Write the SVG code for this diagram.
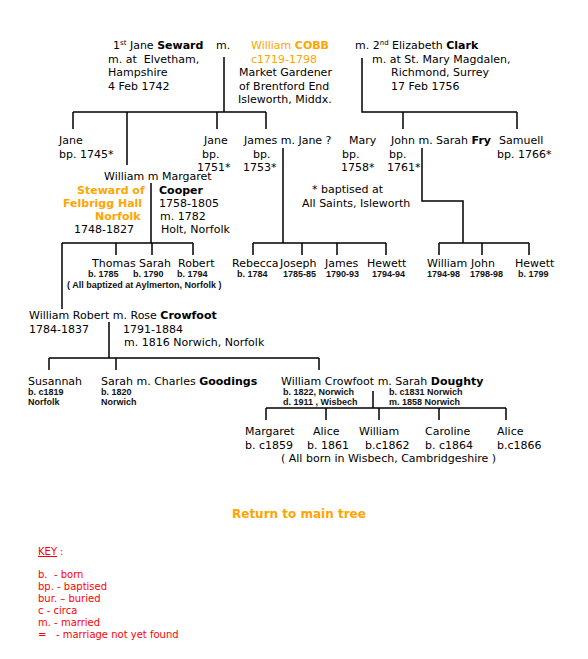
<svg xmlns="http://www.w3.org/2000/svg" width="588" height="659" viewBox="0 0 588 659">
<style>
text{font-family:"DejaVu Sans",Verdana,sans-serif;font-size:11px;fill:#000}
.b{font-weight:bold}
.o{fill:#FFA500}
.s{font-family:"Liberation Sans",Arial,sans-serif;font-size:9px;font-weight:bold;fill:#111}
.k{font-size:10px;fill:#FF0000}
.sup{font-size:7px}
#connectors path{fill:none;stroke:#000;stroke-width:1.5}
</style>
<rect width="588" height="659" fill="#fff"/>
<g id="connectors">
<path d="M224,57V112M73,112H266M73,112V129M127,112V165M217,112V129M266,112V129"/>
<path d="M362,58V112H517M403,112V129M517,112V129"/>
<path d="M283,148V243M253,243H386M253,243V255M302,243V255M337,243V255M386,243V255"/>
<path d="M422,148V201H463V243M439,243H529M439,243V255M482,243V255M529,243V255"/>
<path d="M151,183V243M62,243H193M62,243V309M116,243V255M152,243V255M193,243V255"/>
<path d="M109,322V358M49,358H319M49,358V370M116,358V370M319,358V370"/>
<path d="M373,391V408M266,408H506M266,408V420M326,408V420M379,408V420M439,408V420M506,408V420"/>
</g>
<g id="jane-seward">
<text x="113" y="49">1<tspan class="sup" dy="-4">st</tspan><tspan dy="4"> Jane </tspan><tspan class="b">Seward</tspan></text>
<text x="216" y="49">m.</text>
<text x="108" y="62.5">m. at&#160; Elvetham,</text>
<text x="108" y="76">Hampshire</text>
<text x="108" y="89.5">4 Feb 1742</text>
</g>
<g id="william-cobb">
<text x="251" y="49" class="o">William <tspan class="b">COBB</tspan></text>
<text x="251" y="62.5" class="o">c1719-1798</text>
<text x="239" y="76">Market Gardener</text>
<text x="239" y="89.5">of Brentford End</text>
<text x="238" y="103">Isleworth, Middx.</text>
</g>
<g id="elizabeth-clark">
<text x="355" y="49">m. 2<tspan class="sup" dy="-4">nd</tspan><tspan dy="4"> Elizabeth </tspan><tspan class="b">Clark</tspan></text>
<text x="372" y="62.5">m. at St. Mary Magdalen,</text>
<text x="391" y="76">Richmond, Surrey</text>
<text x="391" y="89.5">17 Feb 1756</text>
</g>
<g id="jane-1745"><text x="59" y="144">Jane</text><text x="59" y="157.5">bp. 1745*</text></g>
<g id="jane-1751"><text x="204" y="144">Jane</text><text x="202" y="157.5">bp.</text><text x="197" y="171">1751*</text></g>
<g id="james"><text x="244" y="144">James m. Jane ?</text><text x="253" y="157.5">bp.</text><text x="243" y="171">1753*</text></g>
<g id="mary"><text x="349" y="144">Mary</text><text x="342" y="157.5">bp.</text><text x="341" y="171">1758*</text></g>
<g id="john"><text x="391" y="144">John m. Sarah <tspan class="b">Fry</tspan></text><text x="389" y="157.5">bp.</text><text x="387" y="171">1761*</text></g>
<g id="samuell"><text x="499" y="144">Samuell</text><text x="497" y="157.5">bp. 1766*</text></g>
<g id="note-baptised"><text x="312" y="193">* baptised at</text><text x="302" y="207">All Saints, Isleworth</text></g>
<g id="william-margaret">
<text x="104" y="180">William m Margaret</text>
<text x="77" y="193.5" class="o b">Steward of</text>
<text x="63" y="207" class="o b">Felbrigg Hall</text>
<text x="95" y="220" class="o b">Norfolk</text>
<text x="74" y="233">1748-1827</text>
<text x="159" y="193.5" class="b">Cooper</text>
<text x="159" y="207">1758-1805</text>
<text x="160" y="220">m. 1782</text>
<text x="161" y="233">Holt, Norfolk</text>
</g>
<g id="thomas"><text x="92" y="267">Thomas</text><text x="88" y="277" class="s">b. 1785</text></g>
<g id="sarah-1790"><text x="139" y="267">Sarah</text><text x="133" y="277" class="s">b. 1790</text></g>
<g id="robert"><text x="178" y="267">Robert</text><text x="177" y="277" class="s">b. 1794</text></g>
<g id="note-aylmerton"><text x="67" y="288" class="s">( All baptized at Aylmerton, Norfolk )</text></g>
<g id="rebecca"><text x="232" y="267">Rebecca</text><text x="237" y="277" class="s">b. 1784</text></g>
<g id="joseph"><text x="280" y="267">Joseph</text><text x="283" y="277" class="s">1785-85</text></g>
<g id="james-1790"><text x="325" y="267">James</text><text x="326" y="277" class="s">1790-93</text></g>
<g id="hewett-1794"><text x="367" y="267">Hewett</text><text x="372" y="277" class="s">1794-94</text></g>
<g id="william-1794"><text x="427" y="267">William</text><text x="427" y="277" class="s">1794-98</text></g>
<g id="john-1798"><text x="471" y="267">John</text><text x="470" y="277" class="s">1798-98</text></g>
<g id="hewett-1799"><text x="515" y="267">Hewett</text><text x="518" y="277" class="s">b. 1799</text></g>
<g id="william-robert">
<text x="29" y="319">William Robert m. Rose <tspan class="b">Crowfoot</tspan></text>
<text x="29" y="332.5">1784-1837</text>
<text x="123" y="332.5">1791-1884</text>
<text x="124" y="346">m. 1816 Norwich, Norfolk</text>
</g>
<g id="susannah"><text x="28" y="385">Susannah</text><text x="28" y="395" class="s">b. c1819</text><text x="28" y="405" class="s">Norfolk</text></g>
<g id="sarah-1820"><text x="101" y="385">Sarah m. Charles <tspan class="b">Goodings</tspan></text><text x="101" y="395" class="s">b. 1820</text><text x="101" y="405" class="s">Norwich</text></g>
<g id="william-crowfoot">
<text x="281" y="385">William Crowfoot m. Sarah <tspan class="b">Doughty</tspan></text>
<text x="283" y="395" class="s">b. 1822, Norwich</text>
<text x="283" y="405" class="s">d. 1911 , Wisbech</text>
<text x="389" y="395" class="s">b. c1831 Norwich</text>
<text x="389" y="405" class="s">m. 1858 Norwich</text>
</g>
<g id="margaret"><text x="245" y="435">Margaret</text><text x="245" y="448.5">b. c1859</text></g>
<g id="alice-1861"><text x="313" y="435">Alice</text><text x="307" y="448.5">b. 1861</text></g>
<g id="william-1862"><text x="359" y="435">William</text><text x="365" y="448.5">b.c1862</text></g>
<g id="caroline"><text x="425" y="435">Caroline</text><text x="425" y="448.5">b. c1864</text></g>
<g id="alice-1866"><text x="497" y="435">Alice</text><text x="497" y="448.5">b.c1866</text></g>
<g id="note-wisbech"><text x="281" y="461.5">( All born in Wisbech, Cambridgeshire )</text></g>
<g id="return"><text x="232" y="518" class="o b" style="font-size:12px">Return to main tree</text></g>
<g id="key">
<text x="38" y="555" class="k" text-decoration="underline">KEY</text><text x="60" y="555" class="k">:</text>
<text x="38" y="578" class="k" xml:space="preserve">b.  - born</text>
<text x="38" y="590" class="k">bp. - baptised</text>
<text x="38" y="602" class="k">bur. – buried</text>
<text x="38" y="614" class="k">c - circa</text>
<text x="38" y="626" class="k">m. - married</text>
<text x="38" y="638" class="k" xml:space="preserve">=   - marriage not yet found</text>
</g>
</svg>
